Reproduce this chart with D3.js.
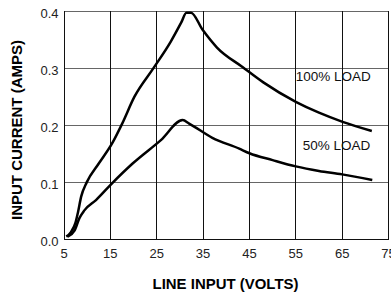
<!DOCTYPE html>
<html><head><meta charset="utf-8">
<script src="https://cdn.jsdelivr.net/npm/d3@7"></script>
<style>body{margin:0;background:#fff}svg{display:block}</style>
</head><body><svg id="c" width="391" height="293"></svg>
<script>
const xTicks = [5,15,25,35,45,55,65,75];
const yTicks = [0.0,0.1,0.2,0.3,0.4];
const load100 = [[5.5,0.005],[6.5,0.013],[7.5,0.03],[8.0,0.047],[8.7,0.075],[9.9,0.1],[12.5,0.133],[15.5,0.17],[17.5,0.202],[20.2,0.25],[24.3,0.3],[28,0.346],[30.3,0.38],[31.4,0.397],[32.4,0.397],[34.9,0.367],[38,0.336],[43.5,0.302],[48,0.275],[55,0.241],[60,0.222],[65.1,0.206],[71.4,0.19]];
const load50 = [[5.8,0.005],[7.3,0.016],[8.3,0.037],[9.4,0.051],[11.9,0.069],[15.2,0.097],[19.8,0.133],[25.9,0.174],[30.6,0.209],[32,0.203],[37,0.178],[42.8,0.159],[45,0.151],[50,0.139],[55,0.128],[60,0.12],[65,0.114],[71.5,0.104]];
const seriesLabels = [{text:"100% LOAD", x:55, y:0.278},{text:"50% LOAD", x:56.5, y:0.156}];

const svg = d3.select("#c");
const x = d3.scaleLinear().domain([5,75]).range([64,388.5]);
const y = d3.scaleLinear().domain([0,0.4]).range([239.5,11]);
const font = "Arial, 'Liberation Sans', sans-serif";

svg.append("g").selectAll("line").data(yTicks).join("line")
  .attr("x1",x(5)).attr("x2",x(75)).attr("y1",d=>y(d)).attr("y2",d=>y(d))
  .attr("stroke",d=>d===0?"#111":"#666").attr("stroke-width",1).attr("shape-rendering","crispEdges");
svg.append("g").selectAll("line").data(xTicks).join("line")
  .attr("x1",d=>x(d)).attr("x2",d=>x(d)).attr("y1",y(0.4)).attr("y2",y(0))
  .attr("stroke","#111").attr("stroke-width",1).attr("shape-rendering","crispEdges");

svg.append("g").selectAll("text").data(yTicks).join("text")
  .attr("x",58.5).attr("y",d=>y(d)+6.5).attr("text-anchor","end")
  .attr("font-family",font).attr("font-size",13).attr("fill","#222")
  .text(d=>d.toFixed(1));
svg.append("g").selectAll("text").data(xTicks).join("text")
  .attr("x",d=>x(d)).attr("y",258).attr("text-anchor","middle")
  .attr("font-family",font).attr("font-size",13).attr("fill","#222")
  .text(d=>d);

const line = d3.line().x(d=>x(d[0])).y(d=>y(d[1])).curve(d3.curveMonotoneX);
[load100,load50].forEach(s=>{
  svg.append("path").attr("d",line(s)).attr("fill","none")
    .attr("stroke","#000").attr("stroke-width",2.5).attr("stroke-linejoin","round");
});

svg.append("g").selectAll("text").data(seriesLabels).join("text")
  .attr("x",d=>x(d.x)).attr("y",d=>y(d.y)).attr("font-family",font).attr("font-size",13.5).attr("fill","#111")
  .text(d=>d.text);

svg.append("text").attr("x",225.5).attr("y",288.5).attr("text-anchor","middle")
  .attr("font-family",font).attr("font-weight","bold").attr("font-size",15).attr("fill","#000")
  .attr("textLength",146).attr("lengthAdjust","spacingAndGlyphs")
  .text("LINE INPUT (VOLTS)");
svg.append("text").attr("transform","translate(21.5,130) rotate(-90)").attr("text-anchor","middle")
  .attr("font-family",font).attr("font-weight","bold").attr("font-size",15).attr("fill","#000")
  .attr("textLength",180).attr("lengthAdjust","spacingAndGlyphs")
  .text("INPUT CURRENT (AMPS)");
</script></body></html>
